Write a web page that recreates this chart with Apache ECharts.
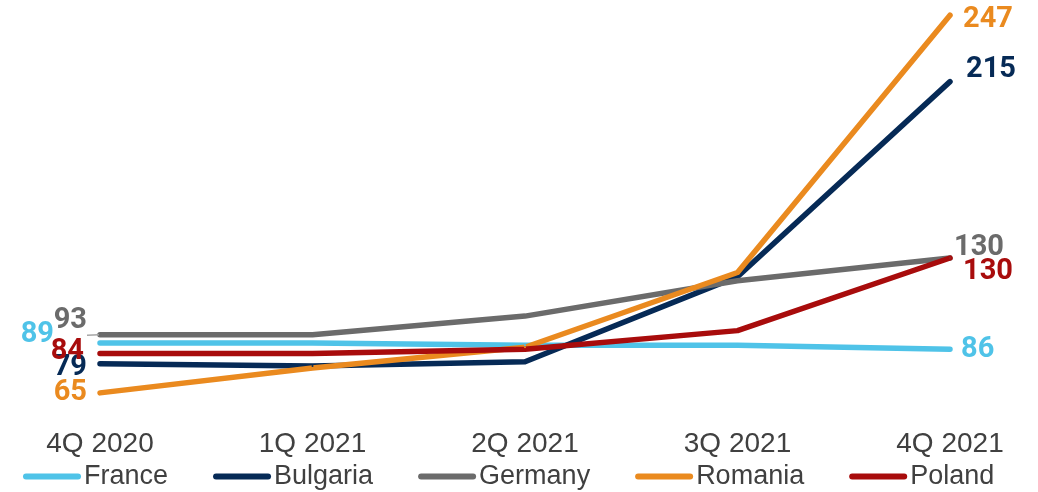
<!DOCTYPE html>
<html>
<head>
<meta charset="utf-8">
<script src="https://cdn.jsdelivr.net/npm/echarts@6/dist/echarts.min.js"></script>
<style>
  html, body { margin: 0; padding: 0; background: #fff; }
  #chart { width: 1038px; height: 492px; }
</style>
</head>
<body>
<div id="chart"></div>
<script>
// Quarterly values per country
const quarters = ['4Q 2020', '1Q 2021', '2Q 2021', '3Q 2021', '4Q 2021'];
const france   = [89, 89, 88, 88, 86];
const bulgaria = [79, 78, 80, 121, 215];
const germany  = [93, 93, 102, 119, 130];
const romania  = [65, 77, 87, 123, 247];
const poland   = [84, 84, 86, 95, 130];

const TEXT = '#404040';
const FONT = 'Roboto, "Liberation Sans", sans-serif';

// Label placement for the first and last point of each line
function endLabels(values, color, first, last) {
  return values.map((v, i) => {
    const item = { value: v };
    const cfg = i === 0 ? first : (i === values.length - 1 ? last : null);
    if (cfg) {
      item.label = Object.assign({
        show: true,
        color: color,
        fontSize: 29,
        fontWeight: 'bold',
        fontFamily: FONT,
        formatter: '{c}'
      }, cfg.label);
      if (cfg.labelLine) item.labelLine = cfg.labelLine;
    }
    return item;
  });
}

function lineSeries(name, values, color, first, last) {
  return {
    name: name,
    type: 'line',
    data: endLabels(values, color, first, last),
    symbol: 'circle',
    symbolSize: 2,
    showSymbol: true,
    itemStyle: { color: color },
    lineStyle: { color: color, width: 5.5, cap: 'round', join: 'round' },
    label: { show: false },
    emphasis: { disabled: true },
    animation: false
  };
}

const chart = echarts.init(document.getElementById('chart'), null, { renderer: 'canvas' });

const legendIcon = 'path://M3,0 H55 A3,3 0 0 1 55,6 H3 A3,3 0 0 1 3,0 Z';

chart.setOption({
  backgroundColor: '#ffffff',
  grid: { left: 100, right: 88, top: 9, bottom: 68 },
  xAxis: {
    type: 'category',
    data: quarters,
    boundaryGap: false,
    axisLine: { show: false },
    axisTick: { show: false },
    splitLine: { show: false },
    axisLabel: { color: TEXT, fontSize: 28, fontFamily: '"Liberation Sans", Arial, sans-serif', margin: 6 }
  },
  yAxis: {
    type: 'value',
    min: 50,
    max: 250,
    show: false,
    splitLine: { show: false }
  },
  legend: {
    bottom: -3,
    left: 18,
    itemWidth: 58,
    itemHeight: 6,
    itemGap: 45,
    icon: legendIcon,
    textStyle: { color: TEXT, fontSize: 27, fontFamily: '"Liberation Sans", Arial, sans-serif', padding: [0, 0, 0, -2] },
    data: ['France', 'Bulgaria', 'Germany', 'Romania', 'Poland']
  },
  series: [
    lineSeries('France', france, '#4fc3e8',
      { label: { position: 'left', distance: 45, offset: [0, -8] } },
      { label: { position: 'right', distance: 10, offset: [0, 0] } }),
    lineSeries('Bulgaria', bulgaria, '#062a56',
      { label: { position: 'left', distance: 12, offset: [0, 4] } },
      { label: { position: 'right', distance: 15, offset: [0, -12] } }),
    lineSeries('Germany', germany, '#6b6b6b',
      { label: { position: 'left', distance: 12, offset: [0, -14] },
        labelLine: { show: true, lineStyle: { color: '#a6a6a6', width: 1.5 } } },
      { label: { position: 'right', distance: 3, offset: [0, -10] } }),
    lineSeries('Romania', romania, '#ea8a1f',
      { label: { position: 'left', distance: 12, offset: [0, 0] } },
      { label: { position: 'right', distance: 12, offset: [0, 5] } }),
    lineSeries('Poland', poland, '#a80c0c',
      { label: { position: 'left', distance: 15, offset: [0, -2] } },
      { label: { position: 'right', distance: 12, offset: [0, 14] } })
  ]
});
</script>
</body>
</html>
